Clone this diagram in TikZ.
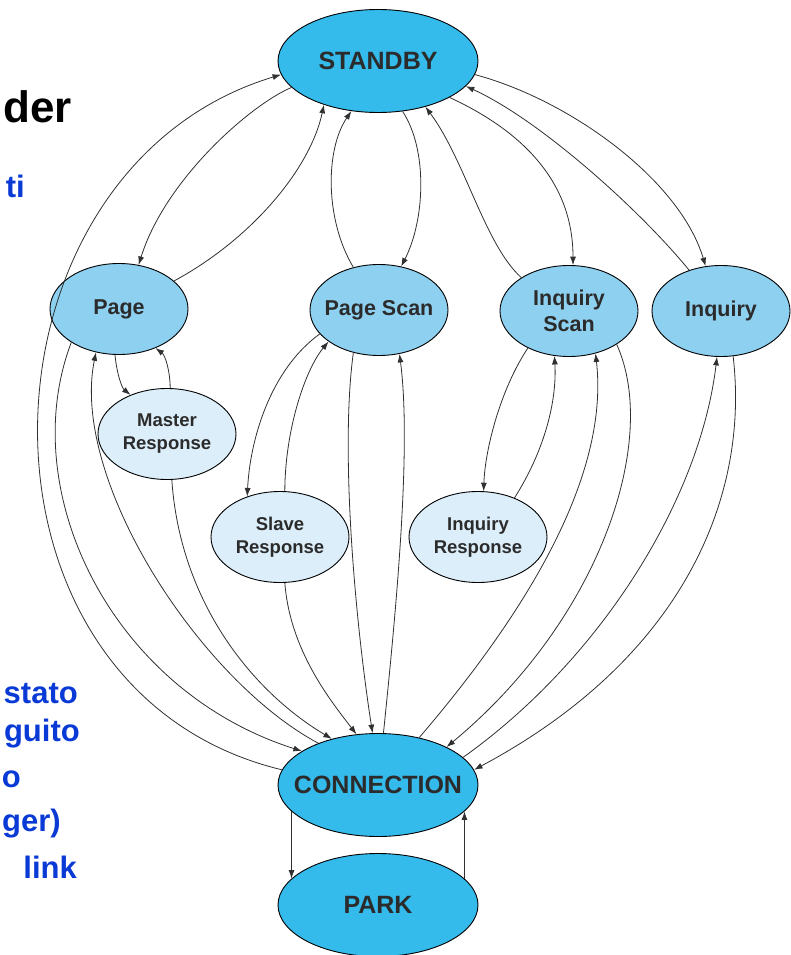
\documentclass[tikz,border=0pt]{standalone}
\usepackage{fontspec}
\setmainfont{Liberation Sans}
\usetikzlibrary{shapes.geometric,arrows.meta}
\definecolor{bigfill}{HTML}{34BAEB}
\definecolor{midfill}{HTML}{8ED0F0}
\definecolor{respfill}{HTML}{DCEEFA}
\definecolor{labelgrey}{HTML}{2B2B2B}
\definecolor{linegrey}{HTML}{303030}
\definecolor{slideblue}{HTML}{0A3AD6}

\begin{document}
\begin{tikzpicture}[x=1pt,y=1pt,
  bigst/.style={ellipse,draw=black,line width=0.9pt,fill=bigfill,inner sep=0pt,minimum width=200pt,minimum height=103pt},
  midst/.style={ellipse,draw=black,line width=0.9pt,fill=midfill,inner sep=0pt,minimum width=138pt,minimum height=91pt},
  respst/.style={ellipse,draw=black,line width=0.9pt,fill=respfill,inner sep=0pt,minimum width=138pt,minimum height=91pt},
  bigtxt/.style={font=\fontsize{25}{30}\selectfont\bfseries,text=labelgrey},
  midtxt/.style={font=\fontsize{21.5}{26}\selectfont\bfseries,text=labelgrey,align=center},
  resptxt/.style={font=\fontsize{18.5}{23}\selectfont\bfseries,text=labelgrey,align=center},
  trans/.style={draw=linegrey,line width=0.8pt,-{Latex[length=8.5pt,width=6pt]}},
  slide/.style={anchor=base east,inner sep=0pt,font=\fontsize{31}{36}\selectfont\bfseries,text=slideblue}]
\useasboundingbox (0,0) rectangle (790,-955);
\node (s-der) at (72,-123) [anchor=base east,inner sep=0pt,font=\fontsize{44}{50}\selectfont\bfseries] {der};
\node (s-ti) at (25,-197) [slide] {ti};
\node (s-stato) at (78,-703) [slide] {stato};
\node (s-guito) at (80,-741) [slide] {guito};
\node (s-o) at (21,-787) [slide] {o};
\node (s-ger) at (61,-831) [slide] {ger)};
\node (s-link) at (77,-878) [slide] {link};
\node (standby) at (378,-61) [bigst,label={[bigtxt]center:STANDBY}] {};
\node (page) at (119,-309) [midst,label={[midtxt]center:Page}] {};
\node (pscan) at (379,-310) [midst,label={[midtxt]center:Page Scan}] {};
\node (iscan) at (569,-311) [midst,label={[midtxt]center:{Inquiry\\Scan}}] {};
\node (inq) at (721,-311) [midst,label={[midtxt]center:Inquiry}] {};
\node (mresp) at (167,-434) [respst,label={[resptxt]center:{Master\\Response}}] {};
\node (sresp) at (280,-537) [respst,label={[resptxt]center:{Slave\\Response}}] {};
\node (iresp) at (478,-537) [respst,label={[resptxt]center:{Inquiry\\Response}}] {};
\node (conn) at (378,-785) [bigst,label={[bigtxt]center:CONNECTION}] {};
\node (park) at (378,-905) [bigst,label={[bigtxt]center:PARK}] {};
\draw[trans] (conn.171) .. controls (-50,-690) and (-35,-170) .. (standby.188);
\draw[trans] (standby.197) .. controls (250,-105) and (165,-180) .. (page.66);
\draw[trans] (page.27) .. controls (250,-240) and (310,-170) .. (standby.219);
\draw[trans] (pscan.121) .. controls (325,-220) and (325,-150) .. (standby.242);
\draw[trans] (standby.296) .. controls (428,-150) and (425,-220) .. (pscan.63);
\draw[trans] (iscan.145) .. controls (485,-245) and (465,-160) .. (standby.316);
\draw[trans] (standby.333) .. controls (520,-130) and (573,-180) .. (iscan.85);
\draw[trans] (inq.128) .. controls (640,-210) and (540,-120) .. (standby.344);
\draw[trans] (standby.352) .. controls (570,-100) and (680,-180) .. (inq.109);
\draw[trans] (page.265) .. controls (117,-375) and (122,-388) .. (mresp.133);
\draw[trans] (mresp.86) .. controls (170,-370) and (165,-355) .. (page.313);
\draw[trans] (page.215) .. controls (15,-490) and (110,-690) .. (conn.156);
\draw[trans] (conn.145) .. controls (200,-680) and (70,-480) .. (page.242);
\draw[trans] (mresp.276) .. controls (180,-600) and (250,-690) .. (conn.135);
\draw[trans] (sresp.276) .. controls (290,-650) and (330,-700) .. (conn.113);
\draw[trans] (pscan.239) .. controls (340,-450) and (355,-620) .. (conn.96);
\draw[trans] (conn.84) .. controls (395,-620) and (412,-450) .. (pscan.295);
\draw[trans] (pscan.202) .. controls (270,-370) and (250,-440) .. (sresp.129);
\draw[trans] (sresp.84) .. controls (285,-430) and (305,-370) .. (pscan.212);
\draw[trans] (iscan.222) .. controls (500,-390) and (485,-450) .. (iresp.83);
\draw[trans] (iresp.47) .. controls (545,-450) and (557,-400) .. (iscan.252);
\draw[trans] (conn.49) .. controls (520,-620) and (610,-480) .. (iscan.302);
\draw[trans] (iscan.325) .. controls (660,-440) and (600,-620) .. (conn.29);
\draw[trans] (conn.18) .. controls (600,-660) and (700,-500) .. (inq.265);
\draw[trans] (inq.285) .. controls (750,-500) and (680,-660) .. (conn.9);
\draw[trans] (conn.197) -- (park.163);
\draw[trans] (park.17) -- (conn.343);
\end{tikzpicture}
\end{document}
